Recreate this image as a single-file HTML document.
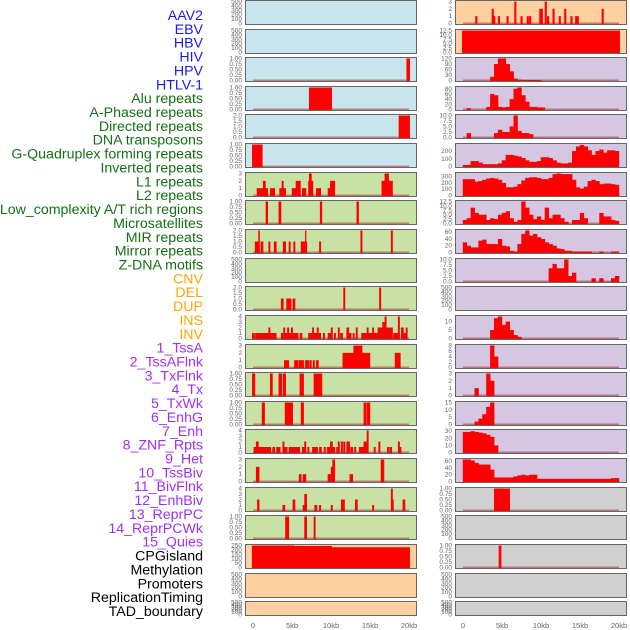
<!DOCTYPE html>
<html><head><meta charset="utf-8"><style>
html,body{margin:0;padding:0;background:#fff;width:630px;height:630px;overflow:hidden}
svg{display:block;font-family:"Liberation Sans",sans-serif}
</style></head><body>
<svg id="chart" width="630" height="630" viewBox="0 0 630 630"></svg>
<script>
const labels=["AAV2","EBV","HBV","HIV","HPV","HTLV-1","Alu repeats","A-Phased repeats","Directed repeats","DNA transposons","G-Quadruplex forming repeats","Inverted repeats","L1 repeats","L2 repeats","Low_complexity A/T rich regions","Microsatellites","MIR repeats","Mirror repeats","Z-DNA motifs","CNV","DEL","DUP","INS","INV","1_TssA","2_TssAFlnk","3_TxFlnk","4_Tx","5_TxWk","6_EnhG","7_Enh","8_ZNF_Rpts","9_Het","10_TssBiv","11_BivFlnk","12_EnhBiv","13_ReprPC","14_ReprPCWk","15_Quies","CPGisland","Methylation","Promoters","ReplicationTiming","TAD_boundary"];
const labelColors=["#1a1aee","#1a1aee","#1a1aee","#1a1aee","#1a1aee","#1a1aee","#156f15","#156f15","#156f15","#156f15","#156f15","#156f15","#156f15","#156f15","#156f15","#156f15","#156f15","#156f15","#156f15","#ffa500","#ffa500","#ffa500","#ffa500","#ffa500","#a030f0","#a030f0","#a030f0","#a030f0","#a030f0","#a030f0","#a030f0","#a030f0","#a030f0","#a030f0","#a030f0","#a030f0","#a030f0","#a030f0","#a030f0","#000","#000","#000","#000","#000"];
const xTicks=[0,5,10,15,20];
const xTickLabels=["0","5kb","10kb","15kb","20kb"];
const rowTops=[0,29,57,86,114,143,172,200,229,258,286,315,344,372,401,429,458,487,515,544,573,601];
const leftBg=["#c8e4ec","#c8e4ec","#c8e4ec","#c8e4ec","#c8e4ec","#c8e4ec","#c8e2a6","#c8e2a6","#c8e2a6","#c8e2a6","#c8e2a6","#c8e2a6","#c8e2a6","#c8e2a6","#c8e2a6","#c8e2a6","#c8e2a6","#c8e2a6","#c8e2a6","#ffd0a0","#ffd0a0","#ffd0a0"];
const rightBg=["#ffd0a0","#ffd0a0","#d5c6e2","#d5c6e2","#d5c6e2","#d5c6e2","#d5c6e2","#d5c6e2","#d5c6e2","#d5c6e2","#d5c6e2","#d5c6e2","#d5c6e2","#d5c6e2","#d5c6e2","#d5c6e2","#d5c6e2","#d0d0d0","#d0d0d0","#d0d0d0","#d0d0d0","#d0d0d0"];
const T500=[0,100,200,300,400,500],T1=[0,0.25,0.5,0.75,1],T2=[0,0.5,1,1.5,2],T3=[0,1,2,3],T4=[0,1,2,3,4];
const leftTicks=[T500,T500,T1,T1,T2,T1,T3,T1,T2,T500,T2,T4,T3,T1,T1,T4,T3,T4,T1,[0,50,100,150,200,250],T500,T500];
const leftMax=[500,500,1,1,2,1,3,1,2,500,2,4,3,1,1,4,3,4,1,250,500,500];
const leftBars=[
[],[],
[[19.7,20.1,1]],
[[7.2,10.1,1]],
[[18.7,20.1,2]],
[[-0.1,1.2,1]],
[[0.5,1.3,1],[1.3,1.6,2],[1.6,1.9,1],[2.2,2.8,1],[3.4,3.7,1],[3.7,3.9,2],[3.9,4.2,1],[5.0,5.5,1],[5.5,6.1,2],[6.3,6.8,1],[7.1,7.2,2],[7.2,7.5,3],[7.5,7.7,2],[8.1,8.7,1],[9.6,9.9,1],[9.9,10.5,2],[16.5,16.9,2],[16.9,17.4,3],[17.4,17.9,2]],
[[1.65,1.9,1],[3.3,3.6,1],[8.6,8.85,1],[13.3,13.55,1]],
[[0.26,0.7,1],[0.7,0.85,2],[1.0,1.3,1],[2.0,2.2,1],[2.7,3.0,1],[3.85,4.2,1],[4.6,4.8,1],[5.2,5.4,1],[6.15,6.7,1],[6.7,6.8,2],[6.8,6.9,1],[8.5,8.7,1],[13.8,14.0,2],[17.7,17.9,2]],
[],
[[3.6,3.9,1],[4.3,4.9,1],[5.1,5.4,1],[11.6,11.8,2],[16.2,16.4,2]],
[[-0.1,0.2,1],[0.3,0.6,1],[0.6,2.0,1],[2.0,2.2,2],[2.2,3.0,1],[3.6,3.9,1],[3.9,4.1,2],[4.1,4.4,1],[4.4,4.6,2],[4.6,4.9,1],[4.9,5.1,2],[5.1,5.8,1],[6.0,6.3,1],[7.1,7.6,1],[7.6,7.8,2],[7.8,8.2,1],[8.2,8.4,2],[8.4,8.7,1],[9.0,9.2,1],[9.6,10.0,1],[10.0,10.2,2],[10.4,10.6,1],[10.9,11.1,2],[11.2,11.5,1],[12.0,12.3,2],[12.3,12.6,1],[12.8,13.0,1],[13.2,13.4,2],[13.9,14.6,1],[14.6,14.8,2],[14.8,15.3,1],[15.3,15.5,2],[15.5,16.0,1],[16.0,16.6,2],[16.6,16.9,3],[16.9,17.1,4],[17.1,17.9,2],[18.0,18.8,1],[18.6,18.8,4],[19.0,19.3,2],[19.3,19.6,1],[19.6,19.8,2]],
[[4.0,4.6,1],[5.3,5.8,1],[5.9,6.5,1],[6.7,6.9,1],[6.95,7.2,1],[7.3,7.5,1],[7.7,7.9,1],[8.1,8.4,1],[11.5,12.9,2],[12.9,14.0,3],[14.0,15.0,2],[18.2,18.9,2]],
[[-0.1,0.26,1],[2.2,2.5,1],[3.3,3.7,1],[3.85,4.2,1],[6.0,6.5,1],[7.8,8.85,1]],
[[1.15,1.5,1],[4.1,5.1,1],[6.15,6.5,1],[14.2,14.5,1],[14.6,15.0,1]],
[[0.1,0.4,1],[0.4,0.7,2],[0.7,2.0,1],[2.0,2.3,1],[2.5,2.8,1],[3.0,3.3,1],[3.3,3.5,1],[3.8,4.0,2],[4.0,4.4,1],[4.6,5.0,1],[5.0,6.0,1],[6.3,6.6,1],[6.6,6.8,2],[7.0,7.2,1],[7.6,8.3,1],[8.5,8.8,1],[9.1,9.3,1],[9.5,9.9,1],[9.9,10.2,2],[10.2,10.5,1],[10.7,10.9,1],[10.9,11.1,2],[11.3,11.5,2],[11.6,11.8,2],[12.0,12.4,2],[12.5,12.8,1],[13.0,13.2,1],[13.6,14.2,1],[14.2,14.6,2],[14.6,14.8,4],[15.5,15.7,1],[16.1,16.3,2],[17.2,17.4,1],[17.5,17.8,1],[18.6,18.8,2],[18.8,19.0,1]],
[[0.4,0.8,2],[5.9,6.2,1],[6.4,6.8,1],[9.6,10.0,1],[10.0,10.2,2],[10.2,10.5,3],[12.4,12.8,1],[16.4,16.8,3]],
[[0.55,0.8,2],[3.8,4.1,1],[5.1,5.4,2],[6.4,6.9,1],[6.6,6.9,3],[7.9,8.2,1],[8.5,8.7,1],[10.0,10.2,1],[11.3,11.75,2],[13.1,13.4,2],[15.3,15.5,1],[17.7,17.9,4],[17.9,18.0,2],[19.2,19.5,2]],
[[4.15,4.6,1],[6.6,6.9,1],[7.8,8.0,1]],
[[-0.1,5.3,250],[5.3,10.1,245],[10.1,20.1,230]],
[],[]
];
const binHIV=[0,0,0,0,0,0,0,20,90,120,120,90,50,10,5,3,3,3,3,3];
const binAlu=[0,5,0,0,0,0,10,60,55,10,8,10,40,80,85,55,30,10,10,8,8];
const binAPhased=[0,2,0,0,0,0,0,0,2,3.5,2.5,2.5,5,10,3,2,2,1.5];
const binGQuad=[20,20,70,70,50,30,30,30,30,40,80,150,150,140,130,110,80,60,60,70,120,120,110,80,50,40,40,50,200,260,280,260,210,150,200,220,180,210,210,200];
const binInverted=[260,260,260,220,230,250,270,280,270,250,200,130,130,140,180,240,280,290,290,280,260,260,280,340,350,340,340,340,250,130,110,140,230,250,230,180,190,190,180,170];
const binL1=[2,3,9,6,5,5,2,3,2.5,5,6,7,3,1,2,12.5,9,5,2.5,4,2,9,3,5,5,3,1,0,2,2,6,3,0,0,0,6,4,4,2,1.5];
const binL2=[30,20,15,15,35,38,25,25,25,40,20,18,5,3,25,55,65,50,55,45,40,30,25,20,12,10,5,5,3,3,3,3,3,0,0,3,0,0,3,3];
const binLowComplex=[0,0,0,0,0,0,0,0,0,0,0,0,0,0,0,0,0,0,0,0,0,0,6,8,6,6,10,2.5,4,0,0,0,0,1.5,0,1.5,0,0,1.5,2.5];
const binINS=[0,0,0,0,0,0,0,5,12,13,8,10,5,2,1];
const binINV=[0,0,0,0,0,0,0,8,4];
const bin1TssA=[0,0,0,1,0,0,3,2];
const bin2TssAFlnk=[0,0,0,2,4,7,12,15];
const bin3TxFlnk=[29,29,30,29,28,27,25,22,10];
const bin4Tx=[65,65,62,55,50,50,50,35,12,12,12,12,12,15,18,20,18,20,20,8,8,8,8,8,8,8,8,8,8,8,8,8,8,8,8,8,8,8,10,10];
const rightTicks=[T3,[0,2.5,5,7.5,10,12.5],[0,30,60,90,120],[0,20,40,60,80],[0,2.5,5,7.5,10],[0,100,200],[0,100,200,300],[0,2.5,5,7.5,10,12.5],[0,20,40,60],[0,2.5,5,7.5,10],T500,[0,5,10],[0,2,4,6,8],T3,[0,5,10,15],[0,10,20,30],[0,20,40,60],T1,T500,T1,T500,T500];
const rightMax=[3,12.5,120,85,10,285,350,12.5,65,10,500,13,8,3,15,31,65,1,500,1,500,500];
const rightAAV2=[[1.6,1],[3.7,2],[3.9,1],[4.5,1],[5.6,1],[6.6,3],[7.4,1],[8.2,1],[8.5,1],[9.8,2],[10.0,2],[10.5,3],[10.8,1],[11.5,2],[12.3,1],[13.0,2],[13.8,1],[14.4,1],[14.6,1],[17.8,2]];
const rightBlocks={1:[[-0.1,20.1,12.5]],17:[[4.0,6.0,1]],19:[[4.6,4.9,1]]};
const rightBins={2:binHIV,3:binAlu,4:binAPhased,5:binGQuad,6:binInverted,7:binL1,8:binL2,9:binLowComplex,11:binINS,12:binINV,13:bin1TssA,14:bin2TssAFlnk,15:bin3TxFlnk,16:bin4Tx};

const svg=document.getElementById('chart');
const NS='http://www.w3.org/2000/svg';
function mk(tag,attrs,parent){const e=document.createElementNS(NS,tag);for(const k in attrs)e.setAttribute(k,attrs[k]);(parent||svg).appendChild(e);return e;}
const PW=171,KB=7.8,OFF=8;
function fmt(v,ticks){if(ticks.includes(0.25))return v.toFixed(2);if(ticks.includes(2.5)||ticks.includes(0.5))return v.toFixed(1);return String(v);}

labels.forEach((t,i)=>{
 const e=mk('text',{x:203,y:15+i*13.86+5,'text-anchor':'end','font-size':'14.2',fill:labelColors[i]});
 e.textContent=t;
 
 
});

function panel(side,r,bg,max,ticks,bars){
 const x0=side==='left'?245:455;
 const top=rowTops[r];const h=(r===rowTops.length-1)?15:25;
 const g=mk('g',{});
 
 
 const rect=mk('rect',{x:x0+0.5,y:top+0.5,width:PW,height:h-1,fill:bg,stroke:'#666','stroke-width':1},g);
 
 
 const bot=top+h-1.5,ih=h-3;
 const xs=kb=>x0+OFF+kb*KB;
 const ys=v=>bot-v/max*ih;
 ticks.forEach(tv=>{
  const tt=mk('text',{x:x0-3,y:ys(tv)+2,'text-anchor':'end','font-size':'6.5',fill:'#666'},g);
  tt.textContent=fmt(tv,ticks);
  
  
 });
 if(bars.length){
  const bl=mk('rect',{x:xs(0),y:bot-1,width:20*KB,height:1.5,fill:'rgba(170,50,50,0.55)'},g);
  
  
 }
 bars.forEach(b=>{
  const y=ys(b[2]);
  const br=mk('rect',{x:xs(b[0])-0.2,y:y,width:Math.max(1.3,(b[1]-b[0])*KB+0.4),height:bot-y+0.5,fill:'#ff0000'},g);
  
  
 });
}
for(let r=0;r<rowTops.length;r++){
 panel('left',r,leftBg[r],leftMax[r],leftTicks[r],leftBars[r]);
 let bars=[];
 if(r===0)bars=rightAAV2.map(p=>[p[0],p[0]+0.22,p[1]]);
 else if(rightBlocks[r])bars=rightBlocks[r];
 else if(rightBins[r])bars=rightBins[r].map((v,i)=>[i*0.5,i*0.5+0.5,v]).filter(b=>b[2]>0);
 panel('right',r,rightBg[r],rightMax[r],rightTicks[r],bars);
}
['left','right'].forEach(side=>{
 const x0=side==='left'?245:455;
 xTicks.forEach((k,i)=>{
  const t=mk('text',{x:x0+OFF+k*KB,y:628,'text-anchor':'middle','font-size':'7.5',fill:'#666'});
  t.textContent=xTickLabels[i];
  
  
 });
});
</script>
</body></html>
